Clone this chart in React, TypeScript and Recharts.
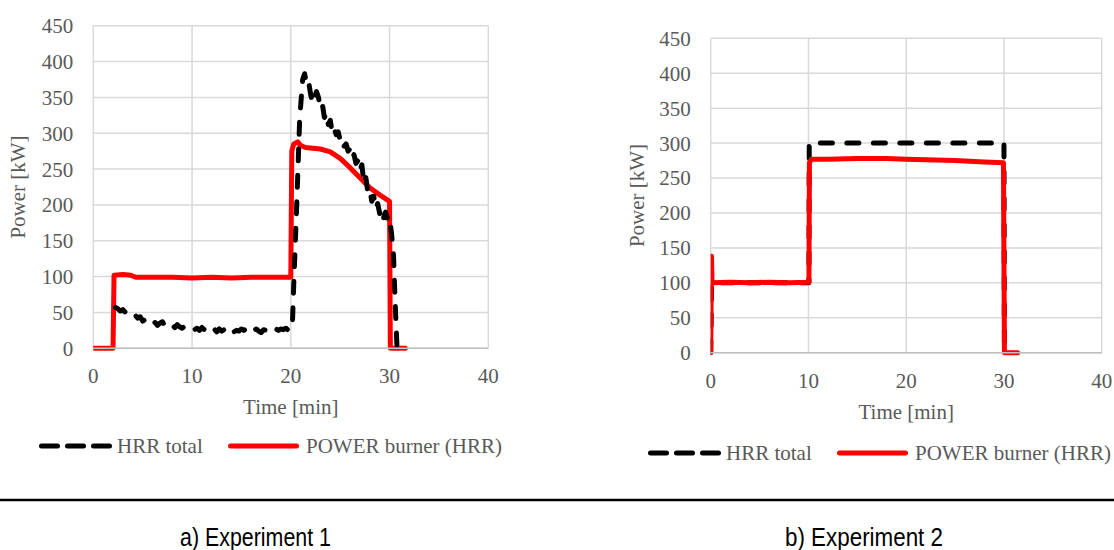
import React from 'react';
import { LineChart, Line, XAxis, YAxis, CartesianGrid } from 'recharts';

// Experiment 1 - HRR total (min, kW)
const exp1HrrTime = [
  2.25, 2.5, 2.75, 3.0, 3.25, 3.5, 3.75, 4.0, 4.25, 4.5, 4.75, 5.0, 5.25, 5.5, 5.75, 6.0,
  6.25, 6.5, 6.75, 7.0, 7.25, 7.5, 7.75, 8.0, 8.25, 8.5, 8.75, 9.0, 9.25, 9.5, 9.75, 10.0,
  10.25, 10.5, 10.75, 11.0, 11.25, 11.5, 11.75, 12.0, 12.25, 12.5, 12.75, 13.0, 13.25, 13.5,
  13.75, 14.0, 14.25, 14.5, 14.75, 15.0, 15.25, 15.5, 15.75, 16.0, 16.25, 16.5, 16.75, 17.0,
  17.25, 17.5, 17.75, 18.0, 18.25, 18.5, 18.75, 19.0, 19.25, 19.5, 19.75, 20.0, 20.15,
  20.3, 20.6, 20.9, 21.2, 21.4, 21.6, 21.8, 22.0, 22.2, 22.4, 22.6, 22.8, 23.0, 23.2, 23.4,
  23.6, 23.8, 24.0, 24.2, 24.4, 24.6, 24.8, 25.0, 25.2, 25.4, 25.6, 25.8, 26.0, 26.2, 26.4,
  26.6, 26.8, 27.0, 27.2, 27.4, 27.6, 27.8, 28.0, 28.2, 28.4, 28.6, 28.8, 29.0, 29.2, 29.4,
  29.6, 29.8, 30.0, 30.2, 30.4, 30.55, 30.75,
];
const exp1HrrValue = [
  57, 55, 52, 54, 50, 48, 50, 45, 46, 42, 44, 38, 40, 35, 37, 34,
  36, 32, 35, 37, 31, 33, 30, 32, 29, 33, 30, 28, 31, 29, 27, 29,
  26, 28, 25, 29, 26, 24, 28, 25, 27, 23, 27, 24, 26, 22,
  25, 27, 23, 25, 24, 27, 25, 28, 31, 28, 25, 27, 24, 22,
  26, 25, 28, 26, 24, 27, 25, 27, 26, 28, 25, 26, 28,
  90, 200, 320, 375, 383, 368, 372, 355, 342, 350, 358, 350, 335, 340, 322,
  328, 312, 318, 300, 306, 298, 302, 290, 293, 282, 285, 275, 278, 265, 270,
  258, 262, 248, 256, 230, 238, 218, 222, 205, 212, 195, 202, 188, 195, 182,
  190, 180, 183, 160, 130, 70, 3,
];

// Experiment 1 - POWER burner (HRR)
const exp1BurnerTime = [
  0, 2.0, 2.1, 3.0, 3.8, 4.3, 6, 8, 10, 12, 14, 16, 18, 20.0, 20.1, 20.3, 20.7, 21.0,
  21.5, 23.0, 24.0, 25.0, 26.0, 27.0, 28.0, 29.0, 30.0, 30.08, 31.6,
];
const exp1BurnerValue = [
  0, 0, 102, 103, 102, 99, 99, 99, 98, 99, 98, 99, 99, 99, 275, 285, 288, 283,
  280, 278, 274, 265, 252, 238, 224, 214, 205, 0, 0,
];

// Experiment 2 - HRR total
const exp2HrrTime = [0, 0.1, 10.05, 10.08, 30.0, 30.05];
const exp2HrrValue = [0, 100, 100, 300, 300, 0];

// Experiment 2 - POWER burner (HRR)
const exp2BurnerTime = [
  0, 0.08, 0.14, 2, 4, 6, 8, 10.05, 10.1, 10.3, 12, 15, 18, 20, 22, 25, 28, 29.95, 30.05, 31.4,
];
const exp2BurnerValue = [
  0, 138, 100, 101, 100, 101, 100, 101, 272, 277, 277, 278, 278, 277, 276, 275, 273, 272, 0, 0,
];

const timeTicks = [0, 10, 20, 30, 40];
const powerTicks = [0, 50, 100, 150, 200, 250, 300, 350, 400, 450];
const seriesNames = ['HRR total', 'POWER burner (HRR)'];
const captions = ['a) Experiment 1', 'b) Experiment 2'];

const toPoints = (t: number[], v: number[]) => t.map((x, i) => ({ t: x, v: v[i] }));

const FONT = '"Liberation Serif", "Times New Roman", serif';
const CAPTION_FONT = '"Liberation Sans Narrow", "Arial Narrow", "Liberation Sans", sans-serif';
const TEXT = '#595959';
const GRID = '#d9d9d9';

interface PanelProps {
  left: number;
  width: number;
  height: number;
  margin: { top: number; right: number; left: number; bottom: number };
  yAxisWidth: number;
  yLabelOffset: number;
  hrr: { t: number; v: number }[];
  burner: { t: number; v: number }[];
  redOnTop: boolean;
}

function Panel({ left, width, height, margin, yAxisWidth, yLabelOffset, hrr, burner, redOnTop }: PanelProps) {
  const hrrLine = (
    <Line
      key="hrr"
      data={hrr}
      dataKey="v"
      type="linear"
      stroke="#000"
      strokeWidth={5}
      strokeDasharray="12 14.5"
      strokeLinecap="round"
      strokeLinejoin="round"
      dot={false}
      activeDot={false}
      isAnimationActive={false}
    />
  );
  const burnerLine = (
    <Line
      key="burner"
      data={burner}
      dataKey="v"
      type="linear"
      stroke="#ff0000"
      strokeWidth={5}
      strokeLinejoin="round"
      strokeLinecap="round"
      dot={false}
      activeDot={false}
      isAnimationActive={false}
    />
  );
  return (
    <div style={{ position: 'absolute', left, top: 0 }}>
      <LineChart width={width} height={height} margin={margin}>
        <CartesianGrid stroke={GRID} strokeWidth={1.5} />
        <XAxis
          type="number"
          dataKey="t"
          domain={[0, 40]}
          ticks={timeTicks}
          allowDataOverflow
          height={70}
          tickSize={0}
          tickMargin={20}
          axisLine={{ stroke: '#bfbfbf', strokeWidth: 1.5 }}
          tick={{ fill: TEXT, fontSize: 21, fontFamily: FONT }}
          label={{ value: 'Time [min]', position: 'insideBottom', offset: 4, fill: TEXT, fontSize: 21, fontFamily: FONT }}
        />
        <YAxis
          type="number"
          domain={[0, 450]}
          ticks={powerTicks}
          width={yAxisWidth}
          tickSize={0}
          tickMargin={20}
          axisLine={false}
          tick={{ fill: TEXT, fontSize: 21, fontFamily: FONT }}
          label={{
            value: 'Power [kW]',
            angle: -90,
            position: 'insideLeft',
            offset: yLabelOffset,
            fill: TEXT,
            fontSize: 21,
            fontFamily: FONT,
            style: { textAnchor: 'middle' },
          }}
        />
        {redOnTop ? [hrrLine, burnerLine] : [burnerLine, hrrLine]}
      </LineChart>
    </div>
  );
}

function Legend({ x, y }: { x: number; y: number }) {
  return (
    <g>
      <line x1={x + 2.5} x2={x + 70.5} y1={y} y2={y} stroke="#000" strokeWidth={5} strokeDasharray="16 10" strokeLinecap="round" />
      <text x={x + 78} y={y + 6.5} fill={TEXT} fontSize={21} fontFamily={FONT}>{seriesNames[0]}</text>
      <line x1={x + 191.5} x2={x + 257.5} y1={y} y2={y} stroke="#ff0000" strokeWidth={5} strokeLinecap="round" />
      <text x={x + 267} y={y + 6.5} fill={TEXT} fontSize={21} fontFamily={FONT}>{seriesNames[1]}</text>
    </g>
  );
}

export default function App() {
  return (
    <div style={{ position: 'absolute', left: 0, top: 0, width: 1114, height: 550, background: '#fff', overflow: 'hidden' }}>
      <Panel
        left={0}
        width={520}
        height={430}
        margin={{ top: 25.7, right: 31.7, left: 0, bottom: 11.7 }}
        yAxisWidth={93.3}
        yLabelOffset={18}
        hrr={toPoints(exp1HrrTime, exp1HrrValue)}
        burner={toPoints(exp1BurnerTime, exp1BurnerValue)}
        redOnTop={false}
      />
      <Panel
        left={600}
        width={514}
        height={440}
        margin={{ top: 38.3, right: 12.3, left: 0, bottom: 17.3 }}
        yAxisWidth={110.7}
        yLabelOffset={36.5}
        hrr={toPoints(exp2HrrTime, exp2HrrValue)}
        burner={toPoints(exp2BurnerTime, exp2BurnerValue)}
        redOnTop={true}
      />
      <svg width={1114} height={550} style={{ position: 'absolute', left: 0, top: 0, pointerEvents: 'none' }}>
        <Legend x={39} y={446} />
        <Legend x={648} y={453} />
        <line x1={0} x2={1114} y1={500} y2={500} stroke="#000" strokeWidth={2.5} />
        <text x={180} y={546} fontSize={25} fontFamily={CAPTION_FONT} fill="#000" textLength={151} lengthAdjust="spacingAndGlyphs">{captions[0]}</text>
        <text x={785} y={546} fontSize={25} fontFamily={CAPTION_FONT} fill="#000" textLength={158} lengthAdjust="spacingAndGlyphs">{captions[1]}</text>
      </svg>
    </div>
  );
}
